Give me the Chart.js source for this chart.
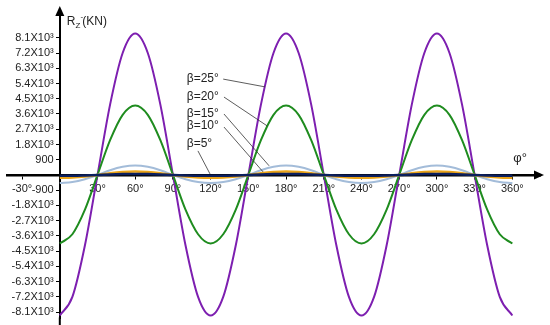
<!DOCTYPE html>
<html>
<head>
<meta charset="utf-8">
<script src="https://cdn.jsdelivr.net/npm/chart.js@4"></script>
<style>
  body { margin: 0; background: #fff; }
</style>
</head>
<body>
<canvas id="myChart" width="550" height="325"></canvas>
<script>
const FONT = '"Liberation Sans", Arial, sans-serif';

// phi in degrees, R_z in KN
const phi = [0, 10, 20, 30, 40, 50, 60, 70, 80, 90, 100, 110, 120, 130, 140, 150, 160, 170, 180,
  190, 200, 210, 220, 230, 240, 250, 260, 270, 280, 290, 300, 310, 320, 330, 340, 350, 360];

const beta25 = [-8300, -7200, -4150, 0, 4150, 7200, 8350, 7200, 4150, 0, -4150, -7200,
  -8300, -7200, -4150, 0, 4150, 7200, 8350, 7200, 4150, 0, -4150, -7200,
  -8300, -7200, -4150, 0, 4150, 7200, 8350, 7200, 4150, 0, -4150, -7200, -8300];
const beta20 = [-4050, -3500, -2050, 0, 2050, 3550, 4100, 3550, 2050, 0, -2050, -3500,
  -4050, -3500, -2050, 0, 2050, 3550, 4100, 3550, 2050, 0, -2050, -3500,
  -4050, -3500, -2050, 0, 2050, 3550, 4100, 3550, 2050, 0, -2050, -3500, -4050];
const beta15 = [-480, -420, -250, 0, 280, 480, 560, 480, 280, 0, -250, -420,
  -480, -420, -250, 0, 280, 480, 560, 480, 280, 0, -250, -420,
  -480, -420, -250, 0, 280, 480, 560, 480, 280, 0, -250, -420, -480];
const beta10 = [-170, -150, -90, 0, 100, 170, 200, 170, 100, 0, -90, -150,
  -170, -150, -90, 0, 100, 170, 200, 170, 100, 0, -90, -150,
  -170, -150, -90, 0, 100, 170, 200, 170, 100, 0, -90, -150, -170];
const beta5 = [-50, -45, -25, 0, 30, 50, 60, 50, 30, 0, -25, -45,
  -50, -45, -25, 0, 30, 50, 60, 50, 30, 0, -25, -45,
  -50, -45, -25, 0, 30, 50, 60, 50, 30, 0, -25, -45, -50];

const xTicks = [-30, 30, 60, 90, 120, 150, 180, 210, 240, 270, 300, 330, 360];
const yTicks = [-8100, -7200, -6300, -5400, -4500, -3600, -2700, -1800, -900,
  900, 1800, 2700, 3600, 4500, 5400, 6300, 7200, 8100];

// label text, where it sits and which curve point its leader points to (data units)
const callouts = [
  { text: 'β=25°', at: [101, 5660], from: [130, 5660], to: [163.3, 5200] },
  { text: 'β=20°', at: [101, 4600], from: [130.6, 4600], to: [164.9, 2900] },
  { text: 'β=15°', at: [101, 3600], from: [130.6, 3600], to: [166.5, 540] },
  { text: 'β=10°', at: [101, 2890], from: [130.6, 2830], to: [161.7, 180] },
  { text: 'β=5°', at: [101, 1830], from: [109.9, 1420], to: [119.5, 60] },
];

const toPoints = values => phi.map((p, i) => ({ x: p, y: values[i] }));

const axesDecor = {
  id: 'axesDecor',
  afterDraw(chart) {
    const { ctx, chartArea, scales: { x, y } } = chart;
    const x0 = x.getPixelForValue(0);
    const y0 = y.getPixelForValue(0);
    ctx.save();
    // y axis runs on to the bottom edge
    ctx.strokeStyle = '#000';
    ctx.lineWidth = 2;
    ctx.beginPath();
    ctx.moveTo(x0, chartArea.bottom - 1);
    ctx.lineTo(x0, chart.height);
    ctx.stroke();

    // arrow heads
    ctx.fillStyle = '#000';
    ctx.beginPath();
    ctx.moveTo(chartArea.right + 4, y0);
    ctx.lineTo(chartArea.right - 6, y0 - 4.5);
    ctx.lineTo(chartArea.right - 6, y0 + 4.5);
    ctx.closePath();
    ctx.fill();
    ctx.beginPath();
    ctx.moveTo(x0, chartArea.top - 4);
    ctx.lineTo(x0 - 4.5, chartArea.top + 6);
    ctx.lineTo(x0 + 4.5, chartArea.top + 6);
    ctx.closePath();
    ctx.fill();

    // axis titles
    ctx.fillStyle = '#222';
    ctx.textBaseline = 'middle';
    ctx.textAlign = 'left';
    let tx = x0 + 7;
    const ty = chartArea.top + 12;
    ctx.font = '12px ' + FONT;
    ctx.fillText('R', tx, ty);
    tx += ctx.measureText('R').width;
    ctx.font = '8px ' + FONT;
    ctx.fillText('Z', tx, ty + 4);
    ctx.fillText('-', tx + 5, ty - 5);
    tx += ctx.measureText('Z').width + 2;
    ctx.font = '12px ' + FONT;
    ctx.fillText('(KN)', tx, ty);
    ctx.font = '13px ' + FONT;
    ctx.fillText('φ°', x.getPixelForValue(360) + 1, y0 - 17);

    // callouts
    ctx.font = '12px ' + FONT;
    ctx.strokeStyle = '#333';
    ctx.lineWidth = 0.8;
    callouts.forEach(c => {
      ctx.fillText(c.text, x.getPixelForValue(c.at[0]), y.getPixelForValue(c.at[1]));
      ctx.beginPath();
      ctx.moveTo(x.getPixelForValue(c.from[0]), y.getPixelForValue(c.from[1]));
      ctx.lineTo(x.getPixelForValue(c.to[0]), y.getPixelForValue(c.to[1]));
      ctx.stroke();
    });
    ctx.restore();
  },
};

const series = [
  { data: beta5, color: '#0b1f5e', width: 2.5 },
  { data: beta10, color: '#e9a319', width: 2.5 },
  { data: beta15, color: '#a3bcd9', width: 2 },
  { data: beta20, color: '#1f8c1f', width: 2 },
  { data: beta25, color: '#7d1fb0', width: 2 },
];

new Chart(document.getElementById('myChart'), {
  type: 'line',
  data: {
    datasets: series.map(s => ({
      data: toPoints(s.data),
      borderColor: s.color,
      borderWidth: s.width,
      pointRadius: 0,
      cubicInterpolationMode: 'monotone',
      fill: false,
      clip: 4,
    })),
  },
  options: {
    responsive: false,
    animation: false,
    layout: { padding: { left: 7, right: 10, top: 10, bottom: 0 } },
    plugins: { legend: { display: false }, tooltip: { enabled: false } },
    scales: {
      x: {
        type: 'linear',
        min: -42,
        max: 382,
        position: { y: 0 },
        afterBuildTicks: scale => { scale.ticks = xTicks.map(v => ({ value: v })); },
        grid: { drawOnChartArea: false, tickLength: 3, color: '#000' },
        border: { color: '#000', width: 2.5 },
        ticks: {
          autoSkip: false,
          maxRotation: 0,
          padding: 4,
          color: '#222',
          font: { family: FONT, size: 11 },
          callback: value => value + '°',
        },
      },
      y: {
        type: 'linear',
        min: -8470,
        max: 9740,
        position: { x: 0 },
        afterBuildTicks: scale => { scale.ticks = yTicks.map(v => ({ value: v })); },
        grid: { drawOnChartArea: false, tickLength: 3, color: '#000' },
        border: { color: '#000', width: 2 },
        ticks: {
          autoSkip: false,
          padding: 0,
          color: '#222',
          font: { family: FONT, size: 11 },
          callback: value => (Math.abs(value) < 1000 ? String(value) : (value / 1000).toFixed(1) + 'X10³') + '  ',
        },
      },
    },
  },
  plugins: [axesDecor],
});
</script>
</body>
</html>
